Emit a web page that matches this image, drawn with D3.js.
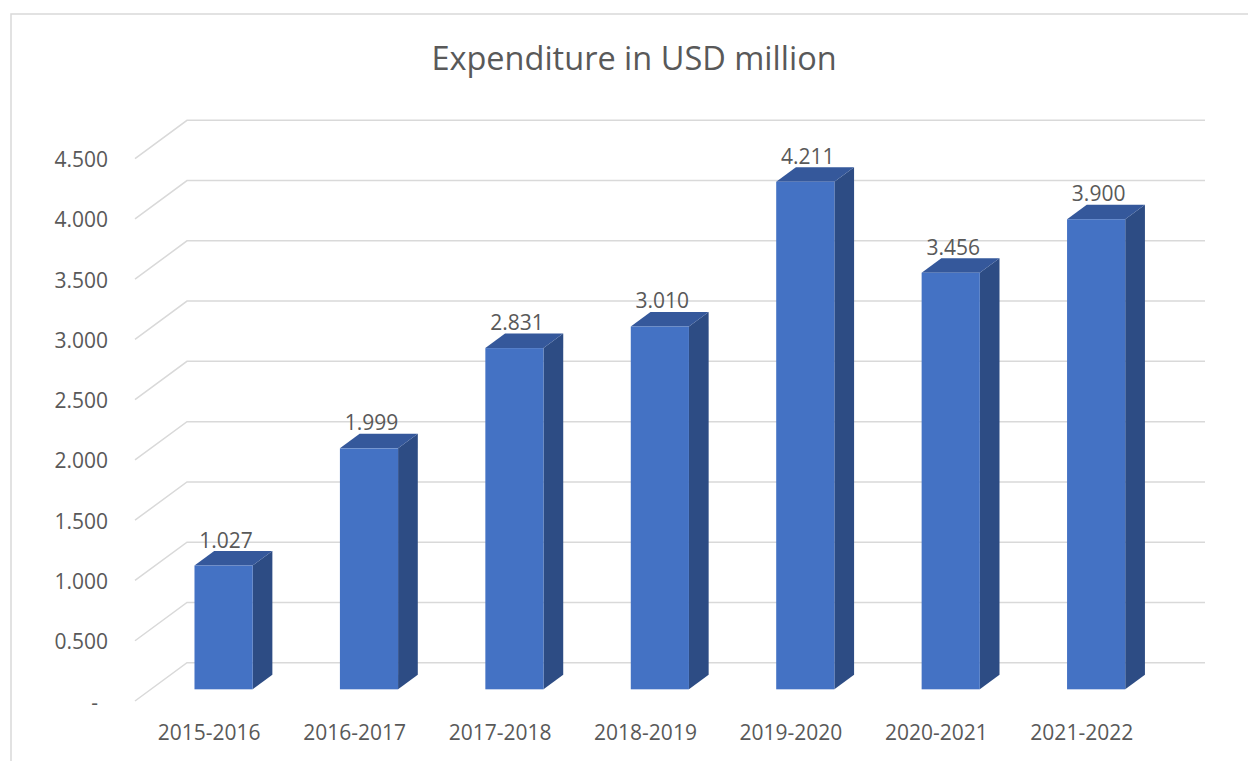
<!DOCTYPE html>
<html>
<head>
<meta charset="utf-8">
<script src="https://cdn.jsdelivr.net/npm/d3@7"></script>
<style>
  html, body { margin: 0; padding: 0; background: #ffffff; }
  svg { display: block; }
  text { font-family: "Open Sans", "Noto Sans", sans-serif; fill: #595959; }
</style>
</head>
<body>
<script>
// Yearly expenditure (USD million)
const categories = ["2015-2016", "2016-2017", "2017-2018", "2018-2019", "2019-2020", "2020-2021", "2021-2022"];
const values = [1.027, 1.999, 2.831, 3.010, 4.211, 3.456, 3.900];
const tickValues = [0, 0.5, 1, 1.5, 2, 2.5, 3, 3.5, 4, 4.5];
const title = "Expenditure in USD million";

const W = 1248, H = 761;
const svg = d3.select("body").append("svg").attr("width", W).attr("height", H);

// 3D projection: depth vector from front to back wall
const depth = { dx: 52, dy: -38.3 };
const barDepth = [0.305, 0.684]; // bar front/back as fractions of floor depth

// Front plane scales
const x = d3.scaleBand().domain(categories).range([135, 1153]).paddingInner(0.6).paddingOuter(0.3);
const y = d3.scaleLinear().domain([0, 4.5]).range([701, 158.6]);
const step = x.step();
const fmt = d3.format(".3f");

// Chart frame
svg.append("path")
  .attr("d", `M11,${H} V14 H${W}`)
  .attr("fill", "none").attr("stroke", "#d9d9d9").attr("stroke-width", 1.5);

// Title
svg.append("text")
  .attr("x", 634).attr("y", 70)
  .attr("text-anchor", "middle")
  .style("font-size", "32.5px")
  .text(title);

// Gridlines: left wall diagonals + back wall horizontals
const grid = svg.append("g").attr("stroke", "#d9d9d9").attr("stroke-width", 1.5).attr("fill", "none");
const x0 = x.range()[0], x1 = x.range()[1];
tickValues.forEach(t => {
  const yf = y(t);
  grid.append("path")
    .attr("d", `M${x0},${yf} L${x0 + depth.dx},${yf + depth.dy} H${x1 + depth.dx}`);
});

// Y tick labels (zero shown as a dash)
const yLabels = svg.append("g").style("font-size", "21px").attr("text-anchor", "end");
tickValues.forEach(t => {
  yLabels.append("text")
    .attr("x", t === 0 ? 98 : 108)
    .attr("y", y(t) + 8.5)
    .text(t === 0 ? "-" : fmt(t));
});

// Bars (front, side, top faces)
const bdx = (barDepth[1] - barDepth[0]) * depth.dx;
const bdy = (barDepth[1] - barDepth[0]) * depth.dy;
const ox = barDepth[0] * depth.dx, oy = barDepth[0] * depth.dy;
const bw = x.bandwidth();

const bars = svg.append("g");
categories.forEach((c, i) => {
  const v = values[i];
  const L = x(c) + ox, R = L + bw;
  const B = y(0) + oy, T = y(v) + oy;
  const g = bars.append("g");
  // side face
  g.append("path")
    .attr("d", `M${R},${B} L${R + bdx},${B + bdy} L${R + bdx},${T + bdy} L${R},${T} Z`)
    .attr("fill", "#2d4c84");
  // top face
  g.append("path")
    .attr("d", `M${L},${T} L${L + bdx},${T + bdy} L${R + bdx},${T + bdy} L${R},${T} Z`)
    .attr("fill", "#35589b");
  // front face
  g.append("rect")
    .attr("x", L).attr("y", T).attr("width", bw).attr("height", B - T)
    .attr("fill", "#4472c4");
  // value label
  g.append("text")
    .attr("x", L + bw / 2 + 2.5)
    .attr("y", T + bdy - 3.5)
    .attr("text-anchor", "middle")
    .style("font-size", "21px")
    .text(fmt(v));
});

// Category labels
const xLabels = svg.append("g").style("font-size", "21px").attr("text-anchor", "middle");
categories.forEach(c => {
  xLabels.append("text")
    .attr("x", x(c) - step * x.paddingInner() / 2 + step / 2 + 1.5)
    .attr("y", 740)
    .text(c);
});
</script>
</body>
</html>
